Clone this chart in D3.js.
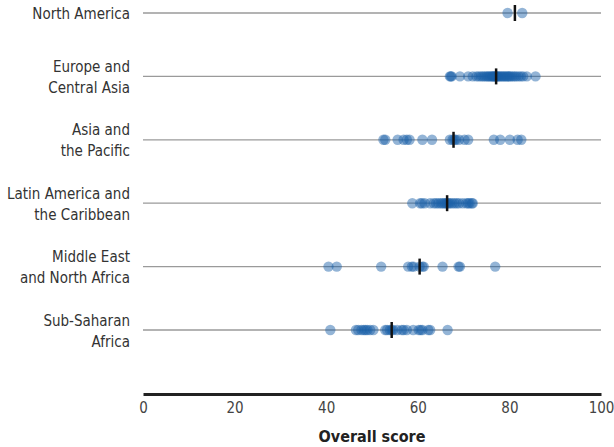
<!DOCTYPE html>
<html>
<head>
<meta charset="utf-8">
<script src="https://cdn.jsdelivr.net/npm/d3@7"></script>
<style>
  html, body { margin: 0; padding: 0; background: #fff; }
  svg { display: block; }
</style>
</head>
<body>
<svg id="chart" width="614" height="447"></svg>
<script>
const regions = [
  ["North America"],
  ["Europe and", "Central Asia"],
  ["Asia and", "the Pacific"],
  ["Latin America and", "the Caribbean"],
  ["Middle East", "and North Africa"],
  ["Sub-Saharan", "Africa"]
];
const northAmerica = [79.6, 82.8];
const europeCentralAsia = [67.0, 67.2, 67.4, 69.2, 71.0, 72.0, 72.8, 73.3, 73.8, 74.2, 74.6, 75.0, 75.3, 75.6, 75.9, 76.2, 76.4, 76.6, 76.8, 77.0, 77.2, 77.4, 77.6, 77.9, 78.2, 78.5, 78.8, 79.1, 79.4, 79.7, 80.0, 80.3, 80.7, 81.1, 81.5, 82.0, 82.5, 83.0, 83.8, 85.7];
const asiaPacific = [52.5, 52.9, 55.6, 56.9, 57.6, 58.2, 61.0, 63.1, 67.0, 67.6, 68.0, 68.3, 69.0, 70.2, 71.0, 76.6, 78.0, 80.1, 81.8, 82.6];
const latinAmerica = [58.8, 60.5, 60.9, 61.5, 62.7, 63.5, 64.0, 64.5, 65.0, 65.4, 65.8, 66.1, 66.4, 66.7, 67.0, 67.5, 68.0, 68.5, 69.0, 69.8, 70.6, 71.0, 71.3, 71.8, 72.0];
const middleEastNorthAfrica = [40.5, 42.3, 52.0, 57.9, 58.7, 59.1, 60.4, 61.0, 61.3, 65.4, 68.9, 69.2, 76.9];
const subSaharanAfrica = [40.9, 46.5, 47.0, 47.7, 48.2, 48.6, 49.0, 49.6, 50.3, 52.9, 53.3, 53.9, 54.3, 54.6, 55.5, 56.5, 56.9, 57.6, 59.0, 60.2, 60.6, 61.0, 62.3, 62.7, 66.5];
const xTicks = [0, 20, 40, 60, 80, 100];
const xTitle = "Overall score";

const seriesValues = [northAmerica, europeCentralAsia, asiaPacific, latinAmerica, middleEastNorthAfrica, subSaharanAfrica];
const keys = regions.map(r => r.join(" "));
const rows = keys.map((k, i) => ({ key: k, lines: regions[i], values: seriesValues[i] }));

const svg = d3.select("#chart");
const labelFont = "'Liberation Sans Narrow', 'DejaVu Sans Condensed', Arial, sans-serif";

const x = d3.scaleLinear().domain([0, 100]).range([143, 601]);
const y = d3.scalePoint().domain(keys).range([13, 330]);

// row lines
svg.append("g").selectAll("line").data(rows).join("line")
  .attr("x1", x(0)).attr("x2", x(100))
  .attr("y1", d => y(d.key)).attr("y2", d => y(d.key))
  .attr("stroke", "#9a9a9a").attr("stroke-width", 1.3);

// row labels
const lab = svg.append("g").selectAll("text").data(rows).join("text")
  .attr("text-anchor", "end")
  .attr("font-family", labelFont)
  .attr("font-size", 15)
  .attr("fill", "#333");
lab.each(function(d) {
  const t = d3.select(this);
  const n = d.lines.length;
  const lh = 21;
  d.lines.forEach((ln, j) => {
    t.append("tspan")
      .attr("x", 130)
      .attr("y", y(d.key) + (j - (n - 1) / 2) * lh + 6)
      .text(ln);
  });
});

// dots
const dotG = svg.append("g");
rows.forEach(r => {
  dotG.selectAll(null).data(r.values).join("circle")
    .attr("cx", v => x(v))
    .attr("cy", y(r.key))
    .attr("r", 5.2)
    .attr("fill", "#1a5fa8")
    .attr("fill-opacity", 0.47);
});

// medians
svg.append("g").selectAll("line").data(rows).join("line")
  .attr("x1", d => x(d3.median(d.values))).attr("x2", d => x(d3.median(d.values)))
  .attr("y1", d => y(d.key) - 8).attr("y2", d => y(d.key) + 8)
  .attr("stroke", "#111").attr("stroke-width", 2.5);

// x axis
const axisY = 394;
const ax = svg.append("g").attr("transform", `translate(0,${axisY})`)
  .call(d3.axisBottom(x).tickValues(xTicks).tickSize(0).tickPadding(8).tickFormat(d3.format("d")));
ax.select(".domain").attr("stroke", "#222").attr("stroke-width", 3);
ax.selectAll("text")
  .attr("font-family", labelFont)
  .attr("font-size", 15)
  .attr("fill", "#444");

svg.append("text")
  .attr("x", x(50)).attr("y", 442)
  .attr("text-anchor", "middle")
  .attr("font-family", labelFont)
  .attr("font-size", 16)
  .attr("font-weight", "bold")
  .attr("fill", "#222")
  .text(xTitle);
</script>
</body>
</html>
